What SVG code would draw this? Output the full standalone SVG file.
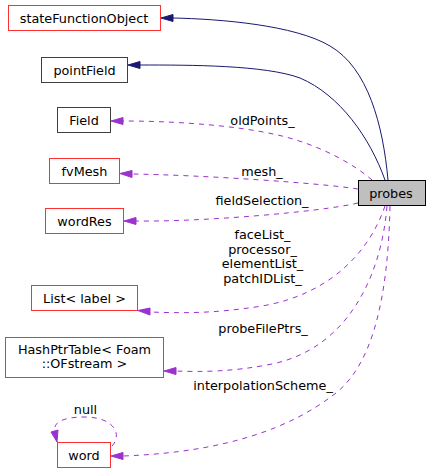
<svg xmlns="http://www.w3.org/2000/svg" width="431" height="473" viewBox="0 0 431 473">
<style>
text{font-family:"DejaVu Sans",sans-serif;font-size:12.8px;fill:#000;text-anchor:middle}
.nr{fill:#fff;stroke:#ff3030;stroke-width:1}
.nb{fill:#fff;stroke:#404040;stroke-width:1}
.e{fill:none;stroke:#191970;stroke-width:1}
.d{fill:none;stroke:#9a32cd;stroke-width:1;stroke-dasharray:5,5}
.ha{fill:#191970;stroke:#191970}
.hd{fill:#9a32cd;stroke:#9a32cd}
</style>
<rect width="431" height="473" fill="#fff"/>
<g id="connectors">
<path class="e" d="M388,180 C383,125 368,68 330,46 C295,25 220,19 173,18"/>
<polygon class="ha" points="173,14.5 161,18 173,21.5"/>
<path class="e" d="M385,180 C370,138 340,95 300,78 C265,65 190,65 140,65"/>
<polygon class="ha" points="140,61.5 128,65 140,68.5"/>
<path class="d" d="M372,180 C355,165 322,146 282,136 C232,124 165,121 123,121"/>
<polygon class="hd" points="123,117.5 111,121 123,124.5"/>
<path class="d" d="M358,189 C320,183 200,175 132,174"/>
<polygon class="hd" points="132,170.5 120,173.5 132,177.5"/>
<path class="d" d="M358,203 C320,212 200,222 136,221"/>
<polygon class="hd" points="136,217.5 124,221 136,224.5"/>
<path class="d" d="M385,206 C370,250 332,294 262,306 C212,314 180,313 150,312"/>
<polygon class="hd" points="150,308 138,310.5 150,315"/>
<path class="d" d="M387,206 C381,280 345,349 272,364 C232,372 200,372 176,371"/>
<polygon class="hd" points="176,367.5 164,371 176,374.5"/>
<path class="d" d="M390,206 C388,300 372,368 332,396 C292,426 230,452 123,456"/>
<polygon class="hd" points="123,452.5 111,456 123,459.5"/>
<path class="d" d="M112,446 C122,436 116,417 84,417 C62,417 53,423 55,431"/>
<polygon class="hd" points="51,432 57,442 58,430"/>
</g>
<g>
<text x="262.5" y="124.5">oldPoints_</text>
<text x="262" y="175.5">mesh_</text>
<text x="262" y="204.5">fieldSelection_</text>
<text x="262.5" y="238.5">faceList_</text>
<text x="262.5" y="253.5">processor_</text>
<text x="262.5" y="268">elementList_</text>
<text x="262.5" y="283">patchIDList_</text>
<text x="263" y="332.5">probeFilePtrs_</text>
<text x="263" y="390">interpolationScheme_</text>
<text x="85.5" y="413.5">null</text>
</g>
<g id="node-probes"><rect x="358.5" y="180.5" width="67" height="25" fill="#bfbfbf" stroke="#000"/><text x="391" y="197.5">probes</text></g>
<g id="node-stateFunctionObject"><rect class="nr" x="8.5" y="5.5" width="152" height="25"/><text x="84" y="22.5">stateFunctionObject</text></g>
<g id="node-pointField"><rect class="nb" x="41.5" y="57.5" width="86" height="25"/><text x="84.5" y="74.5">pointField</text></g>
<g id="node-Field"><rect class="nb" x="57.5" y="107.5" width="53" height="25"/><text x="84" y="124.5">Field</text></g>
<g id="node-fvMesh"><rect class="nr" x="49.5" y="158.5" width="70" height="25"/><text x="84.5" y="175.5">fvMesh</text></g>
<g id="node-wordRes"><rect class="nr" x="45.5" y="208.5" width="78" height="25"/><text x="84.5" y="225.5">wordRes</text></g>
<g id="node-List"><rect class="nr" x="31.5" y="285.5" width="106" height="25"/><text x="84.5" y="302.5">List&lt; label &gt;</text></g>
<g id="node-HashPtrTable"><rect class="nr" x="5.5" y="337.5" width="158" height="40"/><text x="84.5" y="353.5">HashPtrTable&lt; Foam</text><text x="84.5" y="367.5">::OFstream &gt;</text></g>
<g id="node-word"><rect class="nr" x="57.5" y="442.5" width="53" height="25"/><text x="84" y="459.5">word</text></g>
</svg>
